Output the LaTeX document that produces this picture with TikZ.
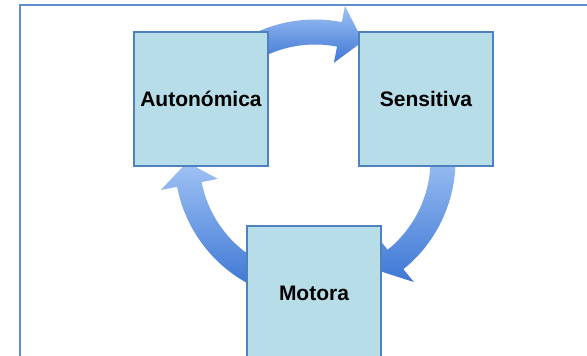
\documentclass[tikz,border=0pt]{standalone}
\usepackage{fontspec}
\setmainfont{Liberation Sans}
\definecolor{boxfill}{RGB}{183,221,232}
\definecolor{boxline}{RGB}{79,129,189}
\definecolor{frameline}{RGB}{95,142,205}
\definecolor{arrlight}{RGB}{160,195,244}
\definecolor{arrdark}{RGB}{62,119,213}
\tikzset{
  stagebox/.style={draw=boxline, line width=1.4pt, fill=boxfill, minimum width=134pt, minimum height=134pt, inner sep=0pt, font=\bfseries\fontsize{21}{25}\selectfont, text=black},
  cyclearrow/.style={top color=arrlight, bottom color=arrdark, draw=none}
}
% #1 tail angle, #2 head base angle, #3 tip angle
\newcommand{\cycarrow}[3]{%
  \shade[cyclearrow] (#1:140.5) arc[start angle=#1, end angle=#2, radius=140.5]
    -- (#2:157) -- (#3:128) -- (#2:99) -- (#2:115.5)
    arc[start angle=#2, end angle=#1, radius=115.5] -- cycle;}
\begin{document}
\begin{tikzpicture}[x=1pt, y=1pt]
\clip (0,0) rectangle (587,356);
\fill[white] (0,0) rectangle (587,356);
\draw[frameline, line width=1.5pt] (20,-10) -- (20,351) -- (600,351);
\begin{scope}[shift={(315,196)}]
  \cycarrow{115}{79}{68}
  \cycarrow{5}{-51}{-60}
  \cycarrow{-115}{-169}{-179}
\end{scope}
\node[stagebox] (auto) at (201,257) {Autonómica};
\node[stagebox] (sens) at (426,257) {Sensitiva};
\node[stagebox] (moto) at (314,63) {Motora};
\end{tikzpicture}
\end{document}
